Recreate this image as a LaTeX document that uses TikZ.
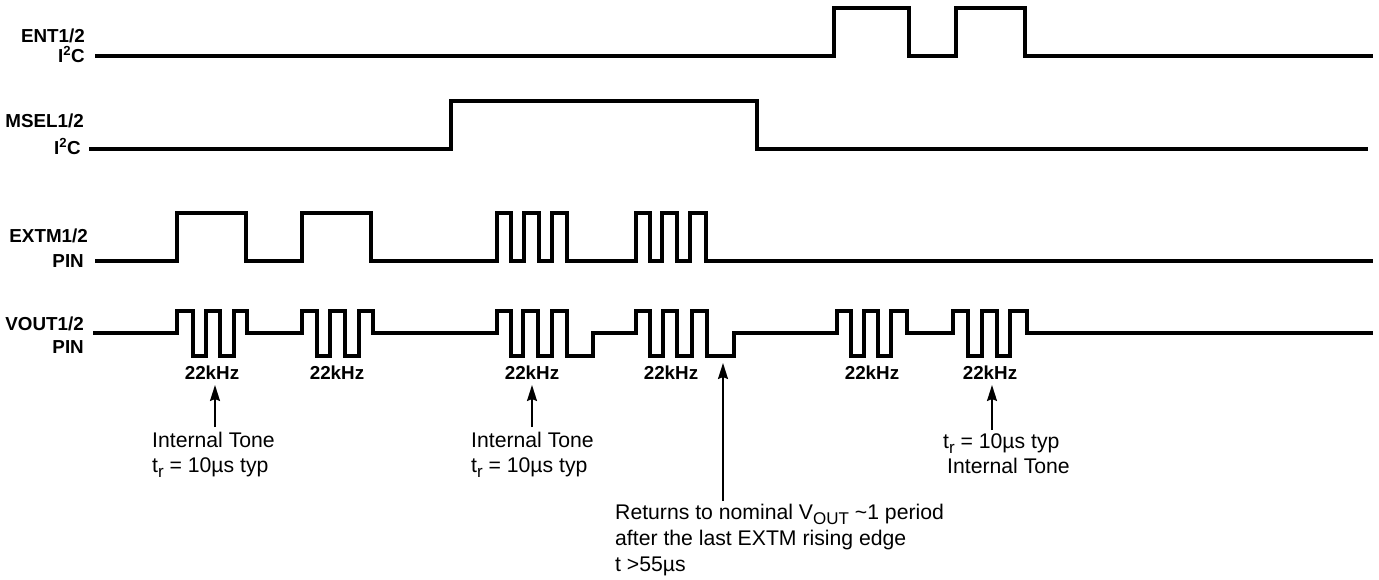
\documentclass[tikz,border=0pt]{standalone}
\usepackage{fontspec}
\setmainfont{Liberation Sans}
\usetikzlibrary{arrows.meta}
\newcommand\lowsub[1]{\raisebox{-5pt}{\fontsize{17}{17}\selectfont #1}}
\begin{document}
\begin{tikzpicture}[x=1pt,y=-1pt,
  wave/.style={line width=3.6pt, line join=miter, line cap=butt},
  arr/.style={line width=1.8pt, -{Stealth[length=16pt,width=10pt,inset=2pt]}},
  sig/.style={font=\fontsize{18.8}{20}\selectfont\bfseries, inner sep=0pt, anchor=base east},
  khz/.style={font=\fontsize{18.8}{20}\selectfont\bfseries, inner sep=0pt, anchor=base},
  note/.style={font=\fontsize{21.2}{25}\selectfont, inner sep=0pt, anchor=base west}]
\useasboundingbox (0,0) rectangle (1379,579);

% signal labels
\node[sig] (entA) at (85,42) {ENT1/2};
\node[sig] (entB) at (85,62) {I\textsuperscript{2}C};
\node[sig] (mselA) at (84,127) {MSEL1/2};
\node[sig] (mselB) at (81,154) {I\textsuperscript{2}C};
\node[sig] (extA) at (88,242) {EXTM1/2};
\node[sig] (extB) at (84,267) {PIN};
\node[sig] (voutA) at (84,330) {VOUT1/2};
\node[sig] (voutB) at (84,353) {PIN};

% ENT
\draw[wave] (95,56) -- (834,56) -- (834,8) -- (909,8) -- (909,56) -- (956,56) -- (956,8) -- (1025,8) -- (1025,56) -- (1373,56);
% MSEL
\draw[wave] (89,149) -- (451,149) -- (451,101) -- (757,101) -- (757,149) -- (1368,149);
% EXTM
\draw[wave] (95,261) -- (177,261) -- (177,213) -- (246,213) -- (246,261) -- (302,261) -- (302,213) -- (371,213) -- (371,261)
  -- (497,261) -- (497,213) -- (511,213) -- (511,261) -- (524,261) -- (524,213) -- (539,213) -- (539,261) -- (552,261) -- (552,213) -- (567,213) -- (567,261)
  -- (636,261) -- (636,213) -- (650,213) -- (650,261) -- (662,261) -- (662,213) -- (677,213) -- (677,261) -- (690,261) -- (690,213) -- (706,213) -- (706,261)
  -- (1373,261);
% VOUT
\draw[wave] (93,333) -- (177,333) -- (177,311) -- (193,311) -- (193,356) -- (206,356) -- (206,311) -- (220,311) -- (220,356) -- (234,356) -- (234,311) -- (247,311) -- (247,333)
  -- (302,333) -- (302,311) -- (317,311) -- (317,356) -- (330,356) -- (330,311) -- (345,311) -- (345,356) -- (359,356) -- (359,311) -- (373,311) -- (373,333)
  -- (497,333) -- (497,311) -- (511,311) -- (511,356) -- (523,356) -- (523,311) -- (538,311) -- (538,356) -- (552,356) -- (552,311) -- (567,311) -- (567,356) -- (593,356) -- (593,333)
  -- (636,333) -- (636,311) -- (650,311) -- (650,356) -- (663,356) -- (663,311) -- (677,311) -- (677,356) -- (692,356) -- (692,311) -- (707,311) -- (707,356) -- (734,356) -- (734,333)
  -- (837,333) -- (837,311) -- (851,311) -- (851,356) -- (864,356) -- (864,311) -- (878,311) -- (878,356) -- (891,356) -- (891,311) -- (907,311) -- (907,333)
  -- (953,333) -- (953,311) -- (968,311) -- (968,356) -- (982,356) -- (982,311) -- (997,311) -- (997,356) -- (1010,356) -- (1010,311) -- (1027,311) -- (1027,333)
  -- (1373,333);

% 22kHz labels
\node[khz] (k1) at (212,379) {22kHz};
\node[khz] (k2) at (337,379) {22kHz};
\node[khz] (k3) at (532,379) {22kHz};
\node[khz] (k4) at (671,379) {22kHz};
\node[khz] (k5) at (872,379) {22kHz};
\node[khz] (k6) at (990,379) {22kHz};

% annotations
\node[note] (n1a) at (152,447) {Internal Tone};
\node[note] (n1b) at (152,472) {t\lowsub{r} = 10µs typ};
\node[note] (n2a) at (471,447) {Internal Tone};
\node[note] (n2b) at (471,472) {t\lowsub{r} = 10µs typ};
\node[note] (n6a) at (943,448) {t\lowsub{r} = 10µs typ};
\node[note] (n6b) at (947,473) {Internal Tone};
\node[note] (n3a) at (615,519) {Returns to nominal V\lowsub{OUT} \textasciitilde1 period};
\node[note] (n3b) at (615,545) {after the last EXTM rising edge};
\node[note] (n3c) at (615,571) {t >55µs};

% arrows
\coordinate (t1) at (215,385); \coordinate (s1) at (215,427);
\coordinate (t2) at (532,385); \coordinate (s2) at (532,427);
\coordinate (t3) at (723,363); \coordinate (s3) at (723,501);
\coordinate (t6) at (992,385); \coordinate (s6) at (992,430);
\draw[arr] (s1) -- (t1);
\draw[arr] (s2) -- (t2);
\draw[arr] (s3) -- (t3);
\draw[arr] (s6) -- (t6);
\end{tikzpicture}
\end{document}
